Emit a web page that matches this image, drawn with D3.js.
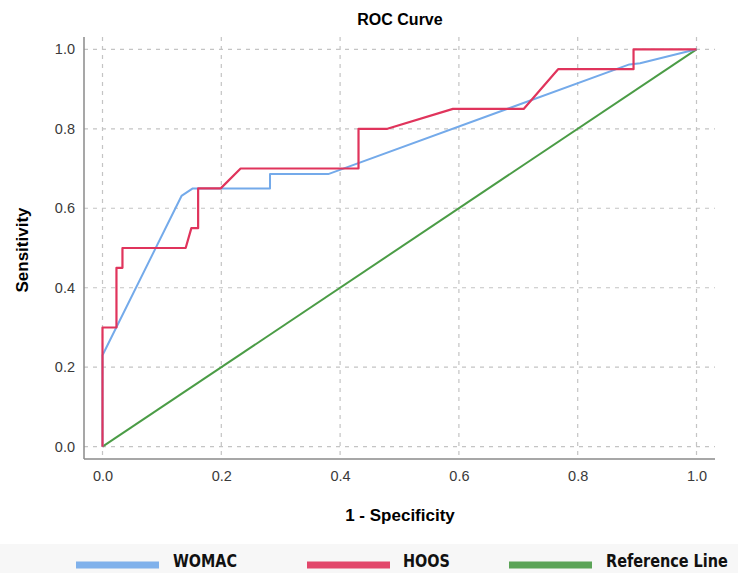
<!DOCTYPE html>
<html>
<head>
<meta charset="utf-8">
<script src="https://cdn.jsdelivr.net/npm/d3@7"></script>
<style>
  body { margin: 0; background: #fff; }
  text { font-family: "Liberation Sans", Arial, sans-serif; }
</style>
</head>
<body>
<div id="chart"></div>
<script>
// ROC curve points (1 - specificity, sensitivity)
const womacX = [0, 0, 0.133, 0.152, 0.282, 0.282, 0.380, 0.887, 0.905, 1];
const womacY = [0, 0.23, 0.631, 0.65, 0.65, 0.686, 0.686, 0.962, 0.965, 1];

const hoosX = [0, 0, 0.0235, 0.0235, 0.0336, 0.0336, 0.140, 0.1496, 0.161, 0.161, 0.199, 0.2325,
               0.431, 0.431, 0.4796, 0.590, 0.709, 0.767, 0.894, 0.894, 1];
const hoosY = [0, 0.30, 0.30, 0.45, 0.45, 0.50, 0.50, 0.55, 0.55, 0.65, 0.65, 0.70,
               0.70, 0.80, 0.80, 0.85, 0.85, 0.95, 0.95, 1, 1];

const refX = [0, 1];
const refY = [0, 1];

const ticks = [0, 0.2, 0.4, 0.6, 0.8, 1.0];
const seriesNames = ["WOMAC", "HOOS", "Reference Line"];
const seriesColors = ["#74aaea", "#e0345c", "#4b9c46"];

const width = 738;
const height = 573;

const svg = d3.select("#chart")
    .append("svg")
    .attr("width", width)
    .attr("height", height);

const x = d3.scaleLinear().domain([0, 1]).range([102.5, 696.5]);
const y = d3.scaleLinear().domain([0, 1]).range([446.7, 49.3]);

// plot box edges (axes sit a bit outside the data range)
const boxL = 84, boxR = 715, boxT = 37, boxB = 459;

// grid
const grid = svg.append("g")
    .attr("stroke", "#c4c4c4")
    .attr("stroke-width", 1.2)
    .attr("stroke-dasharray", "4,5");
grid.selectAll(".h")
    .data(ticks)
    .join("line")
    .attr("x1", boxL).attr("x2", boxR)
    .attr("y1", d => y(d)).attr("y2", d => y(d));
grid.selectAll(".v")
    .data(ticks)
    .join("line")
    .attr("x1", d => x(d)).attr("x2", d => x(d))
    .attr("y1", boxT).attr("y2", boxB);

// axes
const xAxis = svg.append("g")
    .attr("transform", `translate(0,${boxB})`)
    .call(d3.axisBottom(x).tickValues(ticks).tickFormat(d3.format(".1f")).tickSize(0).tickPadding(12));
xAxis.select(".domain").attr("d", `M${boxL},0H${boxR}`).attr("stroke", "#8a8a8a").attr("stroke-width", 1.5);

const yAxis = svg.append("g")
    .attr("transform", `translate(${boxL},0)`)
    .call(d3.axisLeft(y).tickValues(ticks).tickFormat(d3.format(".1f")).tickSize(0).tickPadding(9));
yAxis.select(".domain").attr("d", `M0,${boxT}V${boxB}`).attr("stroke", "#8a8a8a").attr("stroke-width", 1.5);

svg.selectAll(".tick text")
    .attr("font-size", 14.5)
    .attr("fill", "#3a3a3a")
    .attr("font-family", "Liberation Sans, Arial, sans-serif");

// lines
const line = d3.line().x(d => x(d[0])).y(d => y(d[1]));
const series = [
    d3.zip(womacX, womacY),
    d3.zip(hoosX, hoosY),
    d3.zip(refX, refY)
];
const drawOrder = [2, 0, 1];
svg.append("g")
    .selectAll("path")
    .data(drawOrder)
    .join("path")
    .attr("d", i => line(series[i]))
    .attr("fill", "none")
    .attr("stroke", i => seriesColors[i])
    .attr("stroke-width", i => i == 1 ? 2.2 : 2)
    .attr("stroke-linejoin", "round");

// titles
svg.append("text")
    .attr("x", 400).attr("y", 25)
    .attr("text-anchor", "middle")
    .attr("font-size", 16).attr("font-weight", "bold")
    .text("ROC Curve");

svg.append("text")
    .attr("x", 400).attr("y", 521)
    .attr("text-anchor", "middle")
    .attr("font-size", 17).attr("font-weight", "bold")
    .text("1 - Specificity");

svg.append("text")
    .attr("transform", "translate(28,250) rotate(-90)")
    .attr("text-anchor", "middle")
    .attr("font-size", 17).attr("font-weight", "bold")
    .text("Sensitivity");

// legend
svg.append("rect")
    .attr("x", 0).attr("y", 544)
    .attr("width", width).attr("height", height - 544)
    .attr("fill", "#f7f7f7");

const legendSwatch = [76, 307, 509];
const legendText = [173, 403, 606];
const legendLen = [64, 47, 122];
const lg = svg.append("g").selectAll("g")
    .data(seriesNames)
    .join("g");
lg.append("line")
    .attr("x1", (d, i) => legendSwatch[i]).attr("x2", (d, i) => legendSwatch[i] + 83)
    .attr("y1", 565).attr("y2", 565)
    .attr("stroke", (d, i) => seriesColors[i])
    .attr("stroke-width", 7)
    .attr("opacity", 0.9);
// squeeze the text horizontally so it looks condensed like the original
lg.append("g")
    .append("text")
    .attr("font-size", 18)
    .attr("font-weight", "bold")
    .style("font-family", "'DejaVu Sans Condensed', 'Liberation Sans Narrow', sans-serif")
    .attr("fill", "#111")
    .text(d => d)
    .each(function(d, i) {
        const w = this.getComputedTextLength();
        d3.select(this.parentNode)
            .attr("transform", `translate(${legendText[i]},567) scale(${legendLen[i] / w},1)`);
    });
</script>
</body>
</html>
